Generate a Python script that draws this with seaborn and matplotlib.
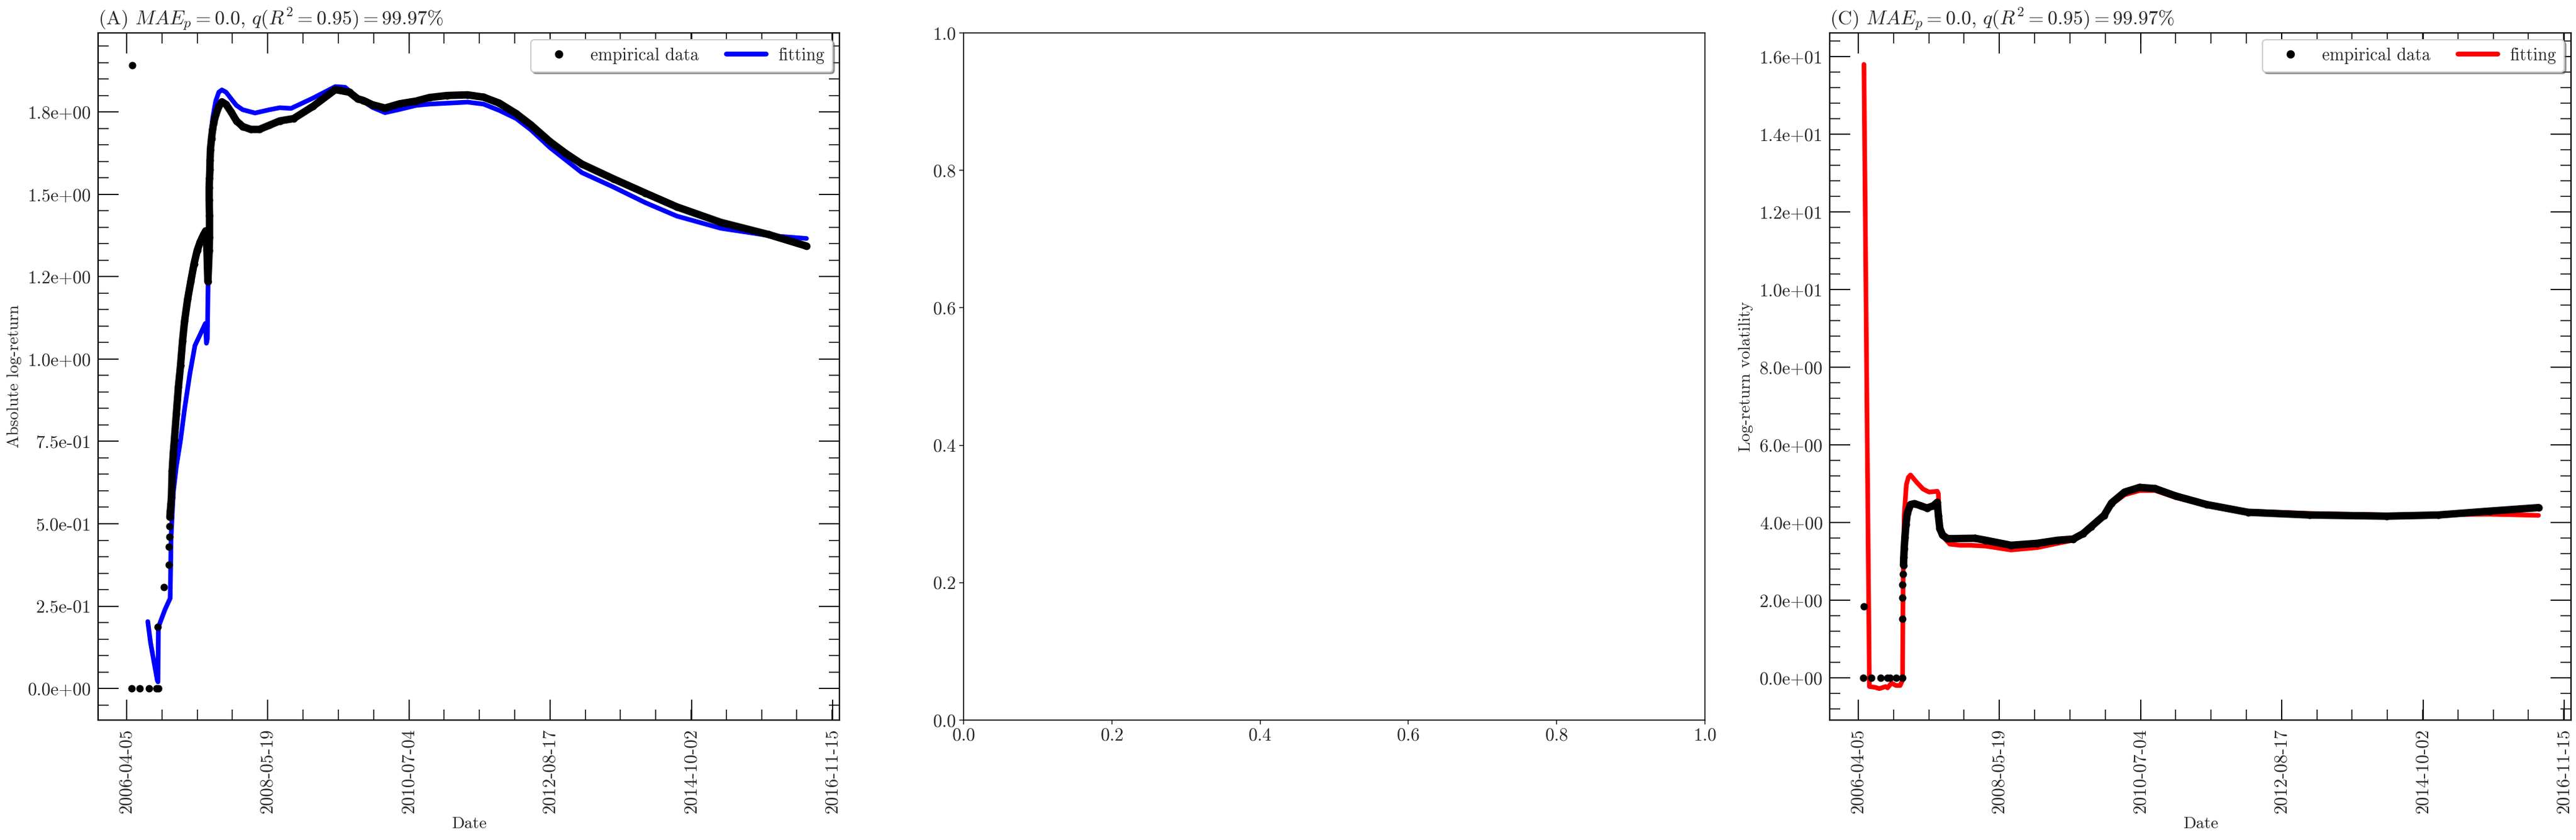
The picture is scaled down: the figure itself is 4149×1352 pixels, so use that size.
import pandas as pd
import matplotlib
matplotlib.use('Agg')
import matplotlib.pyplot as plt
import matplotlib.ticker as mticker
from matplotlib.lines import Line2D
import seaborn as sns

# ─── Style ────────────────────────────────────────────────────────────────────
sns.set_style('white')
plt.rcParams.update({
    'font.family': 'serif',
    'font.serif': ['cmr10'],
    'mathtext.fontset': 'cm',
    'axes.formatter.use_mathtext': True,
    'axes.unicode_minus': False,
    'figure.facecolor': 'white',
})

# ─── Data (days after 2006-04-05) ────────────────────────────────────────────
START = '2006-04-05'
date_ticks = ['2006-04-05', '2008-05-19', '2010-07-04', '2012-08-17', '2014-10-02', '2016-11-15']

# (A) absolute log-return
a_emp_sparse_days = [28, 31, 72, 123, 164, 174, 171, 206, 231, 233, 234, 236]
a_emp_sparse_vals = [0.0, 1.892, 0.0, 0.0, 0.0, 0.0, 0.186, 0.308, 0.375, 0.431, 0.461, 0.493]

a_emp_days = [237, 240, 243, 246, 250, 256, 262, 273, 284, 296, 307, 318, 335, 352, 370, 387,
              404, 421, 434, 437, 439, 441, 443, 446, 453, 455, 455, 453, 453, 455, 457, 458,
              460, 466, 472, 478, 489, 506, 523, 546, 574, 603, 637, 682, 728, 785, 841,
              917, 1023, 1146, 1223, 1269, 1300, 1350, 1419, 1500, 1589, 1664, 1760, 1872,
              1960, 2046, 2140, 2220, 2325, 2410, 2500, 2674, 2848, 3022, 3263, 3526, 3734]
a_emp_vals = [0.52, 0.540, 0.560, 0.580, 0.660, 0.714, 0.754, 0.834, 0.914, 0.981, 1.055,
              1.115, 1.182, 1.235, 1.289, 1.329, 1.356, 1.376, 1.389, 1.380, 1.369, 1.329,
              1.289, 1.235, 1.329, 1.369, 1.436, 1.483, 1.520, 1.549, 1.576, 1.603, 1.636,
              1.670, 1.697, 1.717, 1.741, 1.767, 1.781, 1.773, 1.750, 1.723, 1.706, 1.697,
              1.697, 1.710, 1.723, 1.730, 1.767, 1.818, 1.810, 1.790, 1.785, 1.772, 1.762,
              1.775, 1.783, 1.794, 1.800, 1.802, 1.795, 1.777, 1.745, 1.711, 1.660, 1.625,
              1.592, 1.547, 1.504, 1.462, 1.415, 1.378, 1.343]

a_fit_days = [116, 131, 168, 172, 174, 210, 239, 244, 256, 273, 296, 318, 347, 375, 404,
              432, 438, 443, 447, 450, 455, 460, 472, 489, 506, 523, 546, 574, 603, 637,
              705, 785, 841, 903, 1023, 1146, 1200, 1252, 1350, 1419, 1500, 1589, 1664,
              1872, 1960, 2046, 2140, 2220, 2325, 2500, 2674, 2848, 3022, 3263, 3526, 3734]
a_fit_vals = [0.203, 0.139, 0.025, 0.020, 0.186, 0.239, 0.274, 0.460, 0.594, 0.674, 0.754,
              0.848, 0.955, 1.041, 1.075, 1.108, 1.048, 1.061, 1.222, 1.436, 1.596, 1.663,
              1.730, 1.783, 1.810, 1.817, 1.810, 1.790, 1.770, 1.757, 1.747, 1.757, 1.763,
              1.761, 1.792, 1.827, 1.825, 1.800, 1.764, 1.748, 1.758, 1.770, 1.774, 1.780,
              1.774, 1.755, 1.730, 1.696, 1.642, 1.566, 1.522, 1.475, 1.434, 1.397, 1.375,
              1.366]

# (C) log-return volatility
c_emp_sparse_days = [28, 31, 73, 122, 161, 175, 207, 241, 243, 243, 243, 246]
c_emp_sparse_vals = [0.0, 1.83, 0.0, 0.0, 0.0, 0.0, 0.0, 0.0, 1.525, 2.055, 2.394, 2.676]

c_emp_days = [248, 250, 252, 256, 262, 269, 287, 309, 343, 377, 412, 434, 440, 448, 463,
              491, 641, 699, 839, 982, 1095, 1180, 1235, 1279, 1350, 1391, 1463, 1546,
              1630, 1743, 1913, 2140, 2479, 2902, 3185, 3468, 3736]
c_emp_vals = [2.90, 3.106, 3.33, 3.614, 3.95, 4.235, 4.46, 4.483, 4.427, 4.37, 4.427, 4.517,
              4.178, 3.84, 3.67, 3.58, 3.59, 3.54, 3.41, 3.46, 3.54, 3.57, 3.71, 3.89, 4.18,
              4.50, 4.78, 4.90, 4.87, 4.68, 4.46, 4.26, 4.19, 4.16, 4.19, 4.29, 4.38]

c_fit_days = [31, 61, 93, 116, 150, 161, 182, 207, 230, 243, 246, 252, 264, 275, 287, 321,
              355, 389, 434, 440, 443, 457, 503, 559, 616, 699, 839, 982, 1095, 1180, 1235,
              1279, 1350, 1391, 1463, 1546, 1630, 1743, 1913, 2140, 2479, 2902, 3185, 3468,
              3736]
c_fit_vals = [15.79, -0.226, -0.248, -0.28, -0.226, -0.26, -0.136, -0.2, -0.2, -0.06, 2.48,
              4.18, 4.97, 5.16, 5.22, 5.03, 4.86, 4.78, 4.80, 4.74, 4.18, 3.67, 3.44, 3.41,
              3.41, 3.39, 3.29, 3.35, 3.46, 3.54, 3.71, 3.88, 4.14, 4.46, 4.71, 4.82, 4.82,
              4.64, 4.44, 4.29, 4.23, 4.19, 4.20, 4.21, 4.18]


def to_dates(days):
    return pd.Timestamp(START) + pd.to_timedelta(days, unit='D')


TICK_FS = 21
LABEL_FS = 19.5
LEG_FS = 20
TITLE_FS = 23
W, H = 4149, 1352


def frame_axes(ax, ylim, yticks):
    ax.set_xlim(pd.Timestamp('2005-10-30'), pd.Timestamp('2016-12-23'))
    ax.set_xticks(pd.to_datetime(date_ticks))
    ax.set_xticklabels(date_ticks, rotation=90)
    ax.xaxis.set_minor_locator(mticker.AutoMinorLocator(4))
    ax.set_ylim(*ylim)
    ax.set_yticks(yticks)
    ax.yaxis.set_major_formatter(mticker.FormatStrFormatter('%.1e'))
    ax.yaxis.set_minor_locator(mticker.AutoMinorLocator(5))
    ax.tick_params(which='both', direction='in', top=True, right=True,
                   bottom=True, left=True, color='black')
    ax.tick_params(which='major', length=24, width=1.3, labelsize=TICK_FS)
    ax.tick_params(which='minor', length=12.5, width=1.1)
    ax.tick_params(axis='y', which='major', pad=8)
    ax.tick_params(axis='x', which='major', pad=9.5)
    for s in ax.spines.values():
        s.set_linewidth(1.6)
        s.set_color('black')
    ax.set_xlabel('Date', fontsize=LABEL_FS, labelpad=4)


def draw_panel(ax, sp_d, sp_v, emp_d, emp_v, fit_d, fit_v, fit_color):
    sns.lineplot(x=to_dates(fit_d), y=fit_v, ax=ax, color=fit_color, lw=5.4,
                 sort=False, estimator=None, zorder=2)
    sns.scatterplot(x=to_dates(sp_d), y=sp_v, ax=ax, color='black', s=74,
                    linewidth=0, zorder=3)
    sns.lineplot(x=to_dates(emp_d), y=emp_v, ax=ax, color='black', lw=8.6,
                 marker='o', markersize=8.6, markeredgewidth=0,
                 sort=False, estimator=None, zorder=3)
    handles = [Line2D([], [], ls='', marker='o', color='black', ms=8.6),
               Line2D([], [], color=fit_color, lw=5.6)]
    leg = ax.legend(handles, ['empirical data', 'fitting'], loc='upper right', ncol=2,
                    fontsize=LEG_FS, shadow=True, fancybox=True, framealpha=1,
                    handlelength=2.3, handletextpad=0.7, columnspacing=1.6,
                    borderpad=0.45, borderaxespad=0.4)
    leg.get_frame().set_edgecolor('0.8')
    leg.get_frame().set_linewidth(1.5)


fig = plt.figure(figsize=(W / 100, H / 100), dpi=100)
bottom, height = 1 - 1159 / H, 1106 / H
ax_a = fig.add_axes([158 / W, bottom, 1194 / W, height])
ax_b = fig.add_axes([1552 / W, bottom, 1194 / W, height])
ax_c = fig.add_axes([2947 / W, bottom, 1194 / W, height])

# (A)
draw_panel(ax_a, a_emp_sparse_days, a_emp_sparse_vals, a_emp_days, a_emp_vals,
           a_fit_days, a_fit_vals, 'blue')
frame_axes(ax_a, (-0.096, 1.99), [0, 0.25, 0.5, 0.75, 1.0, 1.25, 1.5, 1.75])
ax_a.set_ylabel('Absolute log-return', fontsize=LABEL_FS, labelpad=7)
ax_a.set_title(r'(A) $MAE_p = 0.0$, $q(R^2 = 0.95) = 99.97\%$', loc='left',
               fontsize=TITLE_FS, pad=10)

# (B) left empty
ax_b.set_xlim(0, 1)
ax_b.set_ylim(0, 1)
ax_b.tick_params(direction='out', length=5, width=1.15, labelsize=TICK_FS,
                 top=False, right=False, bottom=True, left=True)
for s in ax_b.spines.values():
    s.set_linewidth(1.15)
    s.set_color('black')

# (C)
draw_panel(ax_c, c_emp_sparse_days, c_emp_sparse_vals, c_emp_days, c_emp_vals,
           c_fit_days, c_fit_vals, 'red')
frame_axes(ax_c, (-1.09, 16.6), [0, 2, 4, 6, 8, 10, 12, 14, 16])
ax_c.set_ylabel('Log-return volatility', fontsize=LABEL_FS, labelpad=7)
ax_c.set_title(r'(C) $MAE_p = 0.0$, $q(R^2 = 0.95) = 99.97\%$', loc='left',
               fontsize=TITLE_FS, pad=10)

fig.savefig('out.png', dpi=100)
